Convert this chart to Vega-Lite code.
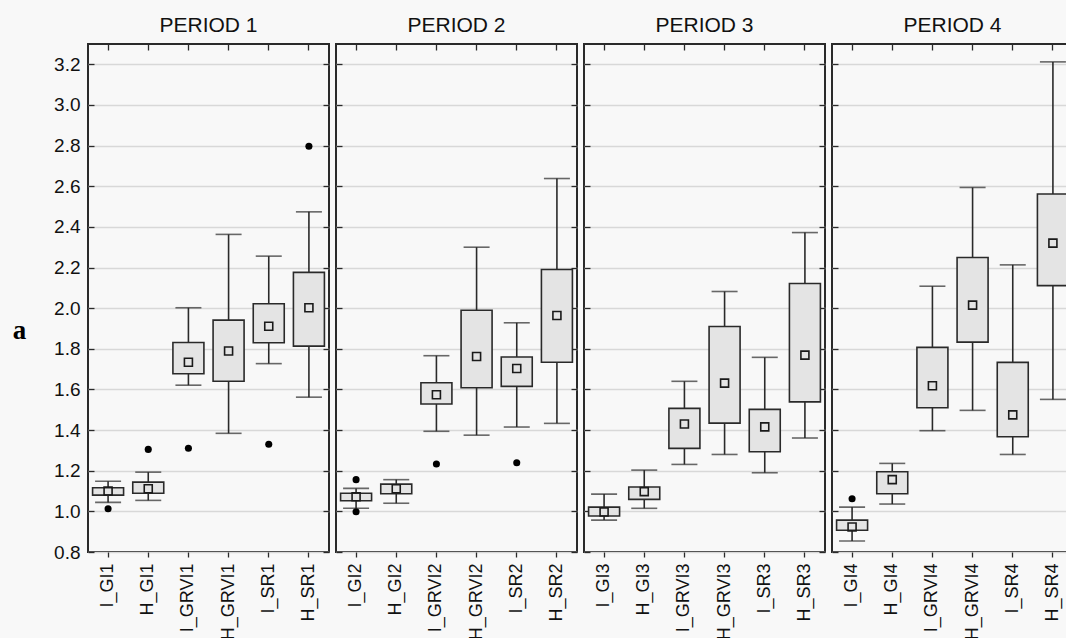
{
  "$schema": "https://vega.github.io/schema/vega-lite/v6.json",
  "background": "#f8f8f8",
  "padding": {"left": 11, "top": 14, "right": 0, "bottom": 0},
  "spacing": 3,
  "datasets": {
    "boxes": [
      {"period": 1, "var": "I_GI1", "lo": 1.044, "q1": 1.080, "mean": 1.100, "q3": 1.116, "hi": 1.148},
      {"period": 1, "var": "H_GI1", "lo": 1.054, "q1": 1.089, "mean": 1.111, "q3": 1.144, "hi": 1.193},
      {"period": 1, "var": "I_GRVI1", "lo": 1.621, "q1": 1.677, "mean": 1.734, "q3": 1.831, "hi": 2.002},
      {"period": 1, "var": "H_GRVI1", "lo": 1.384, "q1": 1.640, "mean": 1.789, "q3": 1.941, "hi": 2.363},
      {"period": 1, "var": "I_SR1", "lo": 1.727, "q1": 1.830, "mean": 1.911, "q3": 2.022, "hi": 2.256},
      {"period": 1, "var": "H_SR1", "lo": 1.562, "q1": 1.813, "mean": 2.002, "q3": 2.176, "hi": 2.474},
      {"period": 2, "var": "I_GI2", "lo": 1.015, "q1": 1.052, "mean": 1.072, "q3": 1.089, "hi": 1.113},
      {"period": 2, "var": "H_GI2", "lo": 1.040, "q1": 1.087, "mean": 1.111, "q3": 1.134, "hi": 1.156},
      {"period": 2, "var": "I_GRVI2", "lo": 1.394, "q1": 1.528, "mean": 1.574, "q3": 1.633, "hi": 1.766},
      {"period": 2, "var": "H_GRVI2", "lo": 1.375, "q1": 1.608, "mean": 1.762, "q3": 1.990, "hi": 2.300},
      {"period": 2, "var": "I_SR2", "lo": 1.415, "q1": 1.615, "mean": 1.703, "q3": 1.760, "hi": 1.928},
      {"period": 2, "var": "H_SR2", "lo": 1.433, "q1": 1.734, "mean": 1.964, "q3": 2.190, "hi": 2.638},
      {"period": 3, "var": "I_GI3", "lo": 0.957, "q1": 0.977, "mean": 0.997, "q3": 1.021, "hi": 1.085},
      {"period": 3, "var": "H_GI3", "lo": 1.015, "q1": 1.059, "mean": 1.097, "q3": 1.120, "hi": 1.203},
      {"period": 3, "var": "I_GRVI3", "lo": 1.231, "q1": 1.310, "mean": 1.430, "q3": 1.507, "hi": 1.640},
      {"period": 3, "var": "H_GRVI3", "lo": 1.280, "q1": 1.434, "mean": 1.631, "q3": 1.910, "hi": 2.082},
      {"period": 3, "var": "I_SR3", "lo": 1.190, "q1": 1.293, "mean": 1.416, "q3": 1.502, "hi": 1.758},
      {"period": 3, "var": "H_SR3", "lo": 1.361, "q1": 1.539, "mean": 1.769, "q3": 2.121, "hi": 2.372},
      {"period": 4, "var": "I_GI4", "lo": 0.854, "q1": 0.907, "mean": 0.923, "q3": 0.957, "hi": 1.021},
      {"period": 4, "var": "H_GI4", "lo": 1.036, "q1": 1.087, "mean": 1.156, "q3": 1.195, "hi": 1.236},
      {"period": 4, "var": "I_GRVI4", "lo": 1.397, "q1": 1.510, "mean": 1.618, "q3": 1.807, "hi": 2.108},
      {"period": 4, "var": "H_GRVI4", "lo": 1.497, "q1": 1.833, "mean": 2.015, "q3": 2.249, "hi": 2.594},
      {"period": 4, "var": "I_SR4", "lo": 1.280, "q1": 1.367, "mean": 1.475, "q3": 1.733, "hi": 2.213},
      {"period": 4, "var": "H_SR4", "lo": 1.551, "q1": 2.111, "mean": 2.320, "q3": 2.562, "hi": 3.212}
    ],
    "outliers": [
      {"period": 1, "var": "I_GI1", "value": 1.013},
      {"period": 1, "var": "H_GI1", "value": 1.305},
      {"period": 1, "var": "I_GRVI1", "value": 1.311},
      {"period": 1, "var": "I_SR1", "value": 1.330},
      {"period": 1, "var": "H_SR1", "value": 2.797},
      {"period": 2, "var": "I_GI2", "value": 1.156},
      {"period": 2, "var": "I_GI2", "value": 0.998},
      {"period": 2, "var": "I_GRVI2", "value": 1.233},
      {"period": 2, "var": "I_SR2", "value": 1.239},
      {"period": 4, "var": "I_GI4", "value": 1.062}
    ]
  },
  "hconcat": [
    {
      "width": 241, "height": 508,
      "title": "PERIOD 1",
      "resolve": {"axis": {"x": "independent", "y": "independent"}},
      "layer": [
        {"data": {"name": "boxes"}, "transform": [{"filter": "datum.period == 1"}],
         "mark": {"type": "rule", "color": "#2a2a2a", "strokeWidth": 1.6},
         "encoding": {
           "x": {"field": "var", "type": "nominal", "scale": {"domain": ["I_GI1", "H_GI1", "I_GRVI1", "H_GRVI1", "I_SR1", "H_SR1"], "paddingInner": 0, "paddingOuter": 0},
                 "axis": {"title": null, "labelAngle": -90, "labelFontSize": 18, "tickSize": 5, "labelPadding": 6, "domain": false, "grid": false}},
           "y": {"field": "lo", "type": "quantitative", "scale": {"domain": [0.8, 3.3], "nice": false, "zero": false},
                 "axis": {"values": [0.8, 1.0, 1.2, 1.4, 1.6, 1.8, 2.0, 2.2, 2.4, 2.6, 2.8, 3.0, 3.2], "format": ".1f", "tickSize": -6, "labelPadding": 14, "domain": false, "grid": true,
                          "title": "a", "titleAngle": 0, "titleFont": "Liberation Serif", "titleFontWeight": "bold", "titleFontSize": 27, "titleColor": "#000000", "titleX": -69, "titleY": 286, "titleAlign": "center", "titleBaseline": "middle"}},
           "y2": {"field": "hi"}
         }},
        {"data": {"name": "boxes"}, "transform": [{"filter": "datum.period == 1"}],
         "mark": {"type": "tick", "color": "#2a2a2a", "thickness": 1.6, "size": 26},
         "encoding": {
           "x": {"field": "var", "type": "nominal", "axis": {"orient": "top", "labels": false, "tickSize": -6, "domain": false, "grid": false, "title": null}},
           "y": {"field": "lo", "type": "quantitative", "axis": {"orient": "right", "values": [0.8, 1.0, 1.2, 1.4, 1.6, 1.8, 2.0, 2.2, 2.4, 2.6, 2.8, 3.0, 3.2], "labels": false, "tickSize": -6, "domain": false, "grid": false, "title": null}}
         }},
        {"data": {"name": "boxes"}, "transform": [{"filter": "datum.period == 1"}],
         "mark": {"type": "tick", "color": "#2a2a2a", "thickness": 1.6, "size": 26},
         "encoding": {"x": {"field": "var", "type": "nominal", "axis": null}, "y": {"field": "hi", "type": "quantitative", "axis": null}}},
        {"data": {"name": "boxes"}, "transform": [{"filter": "datum.period == 1"}],
         "mark": {"type": "bar", "width": 31, "fill": "#e4e4e4", "stroke": "#2a2a2a", "strokeWidth": 1.6},
         "encoding": {"x": {"field": "var", "type": "nominal", "axis": null}, "y": {"field": "q1", "type": "quantitative", "axis": null}, "y2": {"field": "q3"}}},
        {"data": {"name": "boxes"}, "transform": [{"filter": "datum.period == 1"}],
         "mark": {"type": "point", "shape": "square", "size": 64, "filled": false, "stroke": "#1a1a1a", "strokeWidth": 1.6, "opacity": 1},
         "encoding": {"x": {"field": "var", "type": "nominal", "axis": null}, "y": {"field": "mean", "type": "quantitative", "axis": null}}},
        {"data": {"name": "outliers"}, "transform": [{"filter": "datum.period == 1"}],
         "mark": {"type": "circle", "size": 50, "color": "#000000", "opacity": 1},
         "encoding": {"x": {"field": "var", "type": "nominal", "axis": null}, "y": {"field": "value", "type": "quantitative", "axis": null}}}
      ]
    },
    {
      "width": 241, "height": 508,
      "title": "PERIOD 2",
      "resolve": {"axis": {"x": "independent", "y": "independent"}},
      "layer": [
        {"data": {"name": "boxes"}, "transform": [{"filter": "datum.period == 2"}],
         "mark": {"type": "rule", "color": "#2a2a2a", "strokeWidth": 1.6},
         "encoding": {
           "x": {"field": "var", "type": "nominal", "scale": {"domain": ["I_GI2", "H_GI2", "I_GRVI2", "H_GRVI2", "I_SR2", "H_SR2"], "paddingInner": 0, "paddingOuter": 0},
                 "axis": {"title": null, "labelAngle": -90, "labelFontSize": 18, "tickSize": 5, "labelPadding": 6, "domain": false, "grid": false}},
           "y": {"field": "lo", "type": "quantitative", "scale": {"domain": [0.8, 3.3], "nice": false, "zero": false},
                 "axis": {"values": [0.8, 1.0, 1.2, 1.4, 1.6, 1.8, 2.0, 2.2, 2.4, 2.6, 2.8, 3.0, 3.2], "labels": false, "tickSize": -6, "domain": false, "grid": true, "title": null}},
           "y2": {"field": "hi"}
         }},
        {"data": {"name": "boxes"}, "transform": [{"filter": "datum.period == 2"}],
         "mark": {"type": "tick", "color": "#2a2a2a", "thickness": 1.6, "size": 26},
         "encoding": {
           "x": {"field": "var", "type": "nominal", "axis": {"orient": "top", "labels": false, "tickSize": -6, "domain": false, "grid": false, "title": null}},
           "y": {"field": "lo", "type": "quantitative", "axis": {"orient": "right", "values": [0.8, 1.0, 1.2, 1.4, 1.6, 1.8, 2.0, 2.2, 2.4, 2.6, 2.8, 3.0, 3.2], "labels": false, "tickSize": -6, "domain": false, "grid": false, "title": null}}
         }},
        {"data": {"name": "boxes"}, "transform": [{"filter": "datum.period == 2"}],
         "mark": {"type": "tick", "color": "#2a2a2a", "thickness": 1.6, "size": 26},
         "encoding": {"x": {"field": "var", "type": "nominal", "axis": null}, "y": {"field": "hi", "type": "quantitative", "axis": null}}},
        {"data": {"name": "boxes"}, "transform": [{"filter": "datum.period == 2"}],
         "mark": {"type": "bar", "width": 31, "fill": "#e4e4e4", "stroke": "#2a2a2a", "strokeWidth": 1.6},
         "encoding": {"x": {"field": "var", "type": "nominal", "axis": null}, "y": {"field": "q1", "type": "quantitative", "axis": null}, "y2": {"field": "q3"}}},
        {"data": {"name": "boxes"}, "transform": [{"filter": "datum.period == 2"}],
         "mark": {"type": "point", "shape": "square", "size": 64, "filled": false, "stroke": "#1a1a1a", "strokeWidth": 1.6, "opacity": 1},
         "encoding": {"x": {"field": "var", "type": "nominal", "axis": null}, "y": {"field": "mean", "type": "quantitative", "axis": null}}},
        {"data": {"name": "outliers"}, "transform": [{"filter": "datum.period == 2"}],
         "mark": {"type": "circle", "size": 50, "color": "#000000", "opacity": 1},
         "encoding": {"x": {"field": "var", "type": "nominal", "axis": null}, "y": {"field": "value", "type": "quantitative", "axis": null}}}
      ]
    },
    {
      "width": 241, "height": 508,
      "title": "PERIOD 3",
      "resolve": {"axis": {"x": "independent", "y": "independent"}},
      "layer": [
        {"data": {"name": "boxes"}, "transform": [{"filter": "datum.period == 3"}],
         "mark": {"type": "rule", "color": "#2a2a2a", "strokeWidth": 1.6},
         "encoding": {
           "x": {"field": "var", "type": "nominal", "scale": {"domain": ["I_GI3", "H_GI3", "I_GRVI3", "H_GRVI3", "I_SR3", "H_SR3"], "paddingInner": 0, "paddingOuter": 0},
                 "axis": {"title": null, "labelAngle": -90, "labelFontSize": 18, "tickSize": 5, "labelPadding": 6, "domain": false, "grid": false}},
           "y": {"field": "lo", "type": "quantitative", "scale": {"domain": [0.8, 3.3], "nice": false, "zero": false},
                 "axis": {"values": [0.8, 1.0, 1.2, 1.4, 1.6, 1.8, 2.0, 2.2, 2.4, 2.6, 2.8, 3.0, 3.2], "labels": false, "tickSize": -6, "domain": false, "grid": true, "title": null}},
           "y2": {"field": "hi"}
         }},
        {"data": {"name": "boxes"}, "transform": [{"filter": "datum.period == 3"}],
         "mark": {"type": "tick", "color": "#2a2a2a", "thickness": 1.6, "size": 26},
         "encoding": {
           "x": {"field": "var", "type": "nominal", "axis": {"orient": "top", "labels": false, "tickSize": -6, "domain": false, "grid": false, "title": null}},
           "y": {"field": "lo", "type": "quantitative", "axis": {"orient": "right", "values": [0.8, 1.0, 1.2, 1.4, 1.6, 1.8, 2.0, 2.2, 2.4, 2.6, 2.8, 3.0, 3.2], "labels": false, "tickSize": -6, "domain": false, "grid": false, "title": null}}
         }},
        {"data": {"name": "boxes"}, "transform": [{"filter": "datum.period == 3"}],
         "mark": {"type": "tick", "color": "#2a2a2a", "thickness": 1.6, "size": 26},
         "encoding": {"x": {"field": "var", "type": "nominal", "axis": null}, "y": {"field": "hi", "type": "quantitative", "axis": null}}},
        {"data": {"name": "boxes"}, "transform": [{"filter": "datum.period == 3"}],
         "mark": {"type": "bar", "width": 31, "fill": "#e4e4e4", "stroke": "#2a2a2a", "strokeWidth": 1.6},
         "encoding": {"x": {"field": "var", "type": "nominal", "axis": null}, "y": {"field": "q1", "type": "quantitative", "axis": null}, "y2": {"field": "q3"}}},
        {"data": {"name": "boxes"}, "transform": [{"filter": "datum.period == 3"}],
         "mark": {"type": "point", "shape": "square", "size": 64, "filled": false, "stroke": "#1a1a1a", "strokeWidth": 1.6, "opacity": 1},
         "encoding": {"x": {"field": "var", "type": "nominal", "axis": null}, "y": {"field": "mean", "type": "quantitative", "axis": null}}}
      ]
    },
    {
      "width": 241, "height": 508,
      "title": "PERIOD 4",
      "resolve": {"axis": {"x": "independent", "y": "independent"}},
      "layer": [
        {"data": {"name": "boxes"}, "transform": [{"filter": "datum.period == 4"}],
         "mark": {"type": "rule", "color": "#2a2a2a", "strokeWidth": 1.6},
         "encoding": {
           "x": {"field": "var", "type": "nominal", "scale": {"domain": ["I_GI4", "H_GI4", "I_GRVI4", "H_GRVI4", "I_SR4", "H_SR4"], "paddingInner": 0, "paddingOuter": 0},
                 "axis": {"title": null, "labelAngle": -90, "labelFontSize": 18, "tickSize": 5, "labelPadding": 6, "domain": false, "grid": false}},
           "y": {"field": "lo", "type": "quantitative", "scale": {"domain": [0.8, 3.3], "nice": false, "zero": false},
                 "axis": {"values": [0.8, 1.0, 1.2, 1.4, 1.6, 1.8, 2.0, 2.2, 2.4, 2.6, 2.8, 3.0, 3.2], "labels": false, "tickSize": -6, "domain": false, "grid": true, "title": null}},
           "y2": {"field": "hi"}
         }},
        {"data": {"name": "boxes"}, "transform": [{"filter": "datum.period == 4"}],
         "mark": {"type": "tick", "color": "#2a2a2a", "thickness": 1.6, "size": 26},
         "encoding": {
           "x": {"field": "var", "type": "nominal", "axis": {"orient": "top", "labels": false, "tickSize": -6, "domain": false, "grid": false, "title": null}},
           "y": {"field": "lo", "type": "quantitative", "axis": null}
         }},
        {"data": {"name": "boxes"}, "transform": [{"filter": "datum.period == 4"}],
         "mark": {"type": "tick", "color": "#2a2a2a", "thickness": 1.6, "size": 26},
         "encoding": {"x": {"field": "var", "type": "nominal", "axis": null}, "y": {"field": "hi", "type": "quantitative", "axis": null}}},
        {"data": {"name": "boxes"}, "transform": [{"filter": "datum.period == 4"}],
         "mark": {"type": "bar", "width": 31, "fill": "#e4e4e4", "stroke": "#2a2a2a", "strokeWidth": 1.6},
         "encoding": {"x": {"field": "var", "type": "nominal", "axis": null}, "y": {"field": "q1", "type": "quantitative", "axis": null}, "y2": {"field": "q3"}}},
        {"data": {"name": "boxes"}, "transform": [{"filter": "datum.period == 4"}],
         "mark": {"type": "point", "shape": "square", "size": 64, "filled": false, "stroke": "#1a1a1a", "strokeWidth": 1.6, "opacity": 1},
         "encoding": {"x": {"field": "var", "type": "nominal", "axis": null}, "y": {"field": "mean", "type": "quantitative", "axis": null}}},
        {"data": {"name": "outliers"}, "transform": [{"filter": "datum.period == 4"}],
         "mark": {"type": "circle", "size": 50, "color": "#000000", "opacity": 1},
         "encoding": {"x": {"field": "var", "type": "nominal", "axis": null}, "y": {"field": "value", "type": "quantitative", "axis": null}}}
      ]
    }
  ],
  "config": {
    "font": "Liberation Sans",
    "view": {"stroke": "#2a2a2a", "strokeWidth": 2},
    "axis": {"labelFont": "Liberation Sans", "labelFontSize": 19, "labelColor": "#111111", "tickColor": "#2a2a2a", "tickWidth": 1.3, "gridColor": "#d8d8d8", "gridWidth": 1.3, "minExtent": 0},
    "title": {"font": "Liberation Sans", "fontSize": 21, "fontWeight": "normal", "color": "#111111", "offset": 7}
  }
}
